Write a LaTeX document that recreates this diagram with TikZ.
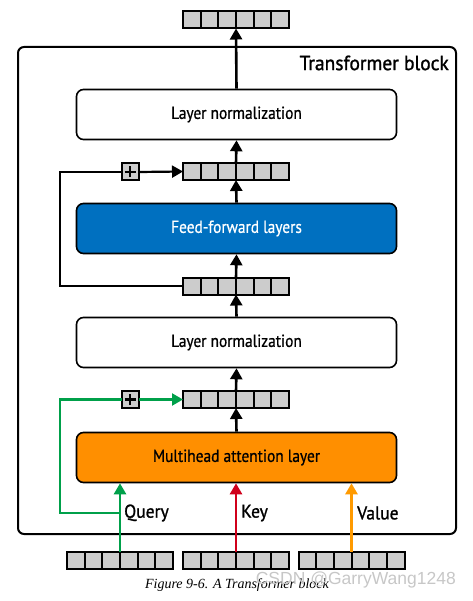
\documentclass[tikz,border=0pt]{standalone}
\usepackage{fontspec}
\setmainfont{Liberation Serif}
\setsansfont{PT Sans}
\newfontfamily\boxfont[FakeStretch=0.88,FakeBold=0.6]{PT Sans}
\newfontfamily\lblfont[FakeStretch=0.95,FakeBold=1.2]{PT Sans}
\newfontfamily\wmfont{Liberation Sans}
\usetikzlibrary{arrows.meta}
\definecolor{cellgray}{HTML}{CCCCCC}
\definecolor{ffblue}{HTML}{0070C0}
\definecolor{mhaorange}{HTML}{FF8F00}
\definecolor{qgreen}{HTML}{00A04A}
\definecolor{kred}{HTML}{D0001B}
\definecolor{vorange}{HTML}{FF9A00}
\tikzset{
  vec/.pic={
    \node[draw, fill=cellgray, line width=2pt, minimum width=106pt, minimum height=17pt, inner sep=0pt, outer sep=0pt] (-b) {};
    \foreach \i in {1,...,5} \draw[line width=2pt] (-53+17.67*\i,-8.5) -- (-53+17.67*\i,8.5);
  },
  layerbox/.style={draw, line width=1.6pt, rounded corners=7pt, minimum width=320pt, minimum height=50pt, inner sep=0pt, font=\boxfont\fontsize{17.5}{19}\selectfont},
  plusbox/.style={draw, fill=cellgray, line width=2pt, minimum width=17pt, minimum height=17pt, inner sep=0pt, outer sep=0pt},
  flow/.style={line width=2.6pt, -{Triangle[length=11pt,width=12pt]}},
  res/.style={line width=2.2pt},
  lbl/.style={anchor=west, inner sep=0pt, font=\lblfont\fontsize{18.5}{20}\selectfont}
}
\begin{document}
\begin{tikzpicture}[x=1pt,y=-1pt]
\useasboundingbox (0,0) rectangle (472,601);
% outer block
\draw[line width=2pt, rounded corners=6pt] (18,47) rectangle (456,534);
\node[anchor=east, inner sep=0pt, font=\lblfont\fontsize{20.5}{22}\selectfont] (title) at (449,63) {Transformer block};
% vectors
\pic (v0) at (236,20) {vec};
\pic (v1) at (236,171.5) {vec};
\pic (v2) at (236,286) {vec};
\pic (v3) at (236,399.5) {vec};
\pic (iq) at (120,560) {vec};
\pic (ik) at (236,560) {vec};
\pic (iv) at (351.5,560) {vec};
% layers
\node[layerbox, fill=white] (ln1) at (236.5,114.5) {Layer normalization};
\node[layerbox, fill=ffblue, text=white] (ff) at (236.5,228.5) {Feed-forward layers};
\node[layerbox, fill=white] (ln2) at (236.5,342.5) {Layer normalization};
\node[layerbox, fill=mhaorange] (mha) at (236.5,457.5) {Multihead attention layer};
% plus boxes
\node[plusbox] (p1) at (130,172) {};
\draw[line width=2.6pt] ([xshift=-5.5pt]p1.center) -- ([xshift=5.5pt]p1.center) ([yshift=-5.5pt]p1.center) -- ([yshift=5.5pt]p1.center);
\node[plusbox] (p2) at (130,399.5) {};
\draw[line width=2.6pt] ([xshift=-5.5pt]p2.center) -- ([xshift=5.5pt]p2.center) ([yshift=-5.5pt]p2.center) -- ([yshift=5.5pt]p2.center);
% main flow
\draw[flow] (ln1.north) -- (v0-b.south);
\draw[flow] (v1-b.north) -- (ln1.south);
\draw[flow] (ff.north) -- (v1-b.south);
\draw[flow] (v2-b.north) -- (ff.south);
\draw[flow] (ln2.north) -- (v2-b.south);
\draw[flow] (v3-b.north) -- (ln2.south);
\draw[flow] (mha.north) -- (v3-b.south);
% inputs
\draw[flow, qgreen] (iq-b.north) -- (iq-b.north |- mha.south);
\draw[flow, kred] (ik-b.north) -- (ik-b.north |- mha.south);
\draw[flow, vorange] (iv-b.north) -- (iv-b.north |- mha.south);
% residuals
\coordinate (rx) at (60,0);
\draw[res, line join=miter] (v2-b.west) -| (rx |- p1.west) -- (p1.west);
\draw[res, -{Triangle[length=11pt,width=12pt]}] (p1.east) -- (v1-b.west);
\coordinate (qb) at (120,513);
\draw[res, qgreen] (qb) -| (rx |- p2.west) -- (p2.west);
\draw[res, qgreen, -{Triangle[length=11pt,width=12pt]}] (p2.east) -- (v3-b.west);
% labels
\node[lbl] (lq) at (124,513) {Query};
\node[lbl] (lk) at (241,513) {Key};
\node[lbl] (lv) at (357,513) {Value};
% caption
\node[inner sep=0pt, font=\itshape\fontsize{14}{16}\selectfont] (cap) at (237,585) {Figure 9-6. A Transformer block};
\node[inner sep=0pt, anchor=east, text=black!22, font=\wmfont\fontsize{17.5}{19}\selectfont] (wm) at (456,580) {CSDN @GarryWang1248};
\end{tikzpicture}
\end{document}
